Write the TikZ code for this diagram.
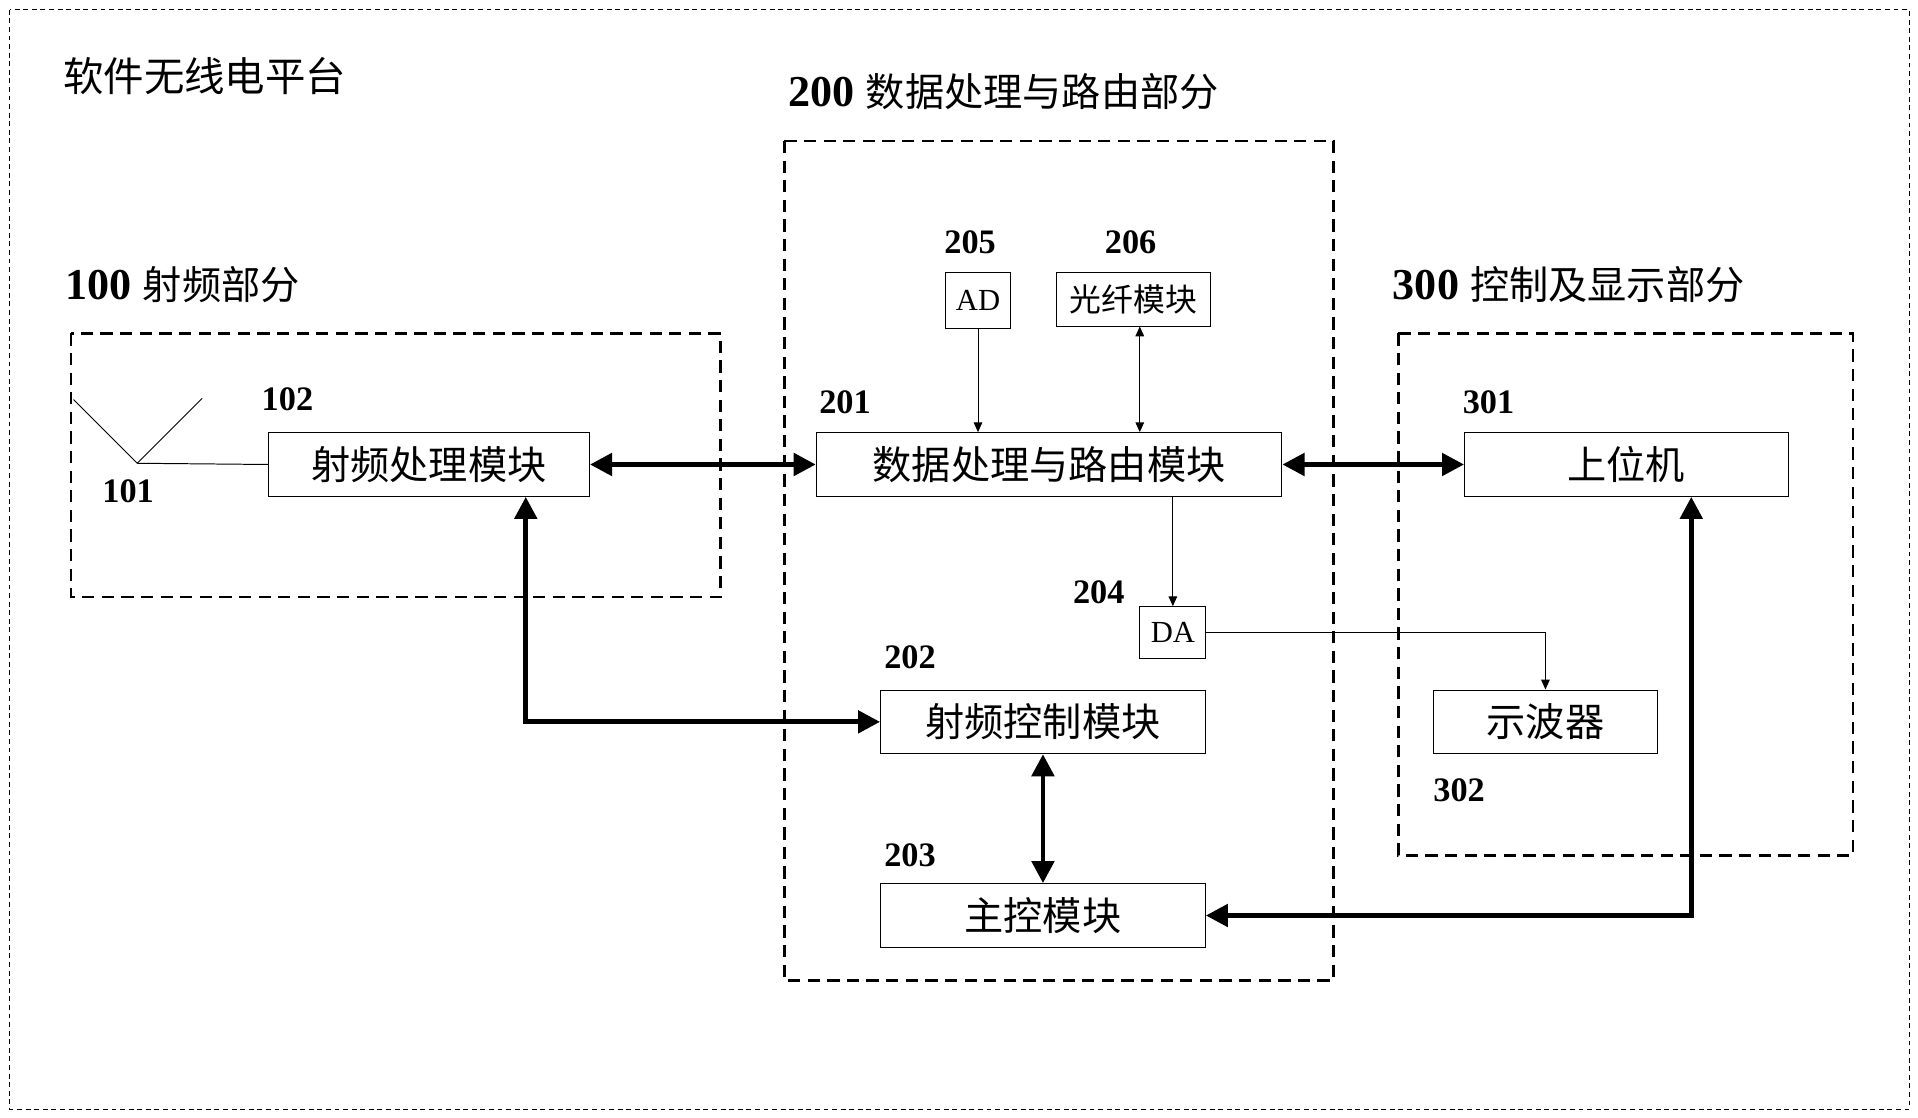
\documentclass[tikz,border=0pt]{standalone}
\usepackage{fontspec}
\setmainfont{Liberation Serif}
\newfontfamily\cjk{Noto Sans CJK SC}
\usetikzlibrary{arrows.meta}
\begin{document}
\begin{tikzpicture}[x=1pt,y=-1pt,
 box/.style={draw,line width=0.8pt,minimum height=52pt,font=\cjk\fontsize{32}{34}\selectfont,inner sep=0pt},
 sbox/.style={draw,line width=0.8pt,font=\fontsize{25}{27}\selectfont,inner sep=2pt},
 num/.style={font=\bfseries\fontsize{28}{30}\selectfont,anchor=west},
 head/.style={font=\fontsize{36}{38}\selectfont,anchor=west},
 grp/.style={draw,dashed,line width=2pt,dash pattern=on 10pt off 6pt},
 thin/.style={line width=0.8pt},
 big/.style={line width=4pt,{Triangle[length=18pt,width=18pt]}-{Triangle[length=18pt,width=18pt]}},
 sa/.style={thin,-{Triangle[length=8pt,width=7pt]}}]
\useasboundingbox (0,0) rectangle (1565,912);
\draw[thin,dash pattern=on 4pt off 3pt] (8,8) rectangle (1558,905);
\node[anchor=west,font=\cjk\fontsize{33}{35}\selectfont] (title) at (48,62) {软件无线电平台};
\node[head] (h200) at (640,75) {\textbf{200} {\cjk\fontsize{32}{34}\selectfont 数据处理与路由部分}};
\node[head] (h100) at (50,232) {\textbf{100} {\cjk\fontsize{32}{34}\selectfont 射频部分}};
\node[head] (h300) at (1133,232) {\textbf{300} {\cjk\fontsize{32}{34}\selectfont 控制及显示部分}};
\draw[grp] (640,115) rectangle (1088,800);
\draw[grp] (58,272) rectangle (588,487);
\draw[grp] (1141,272) rectangle (1512,698);
% antenna
\coordinate (ant) at (112,378);
\coordinate (antl) at (60,326);
\coordinate (antr) at (165,325);
\draw[thin] (antl) -- (ant) -- (antr);
\node[num] (n101) at (80,401) {101};
\node[box,minimum width=262pt] (b102) at (350,379) {射频处理模块};
\draw[thin] (ant) -- (b102.west);
\node[num] (n102) at (210,326) {102};
\node[box,minimum width=380pt] (b201) at (856,379) {数据处理与路由模块};
\node[num] (n201) at (665,328) {201};
\node[sbox,minimum width=53pt,minimum height=46pt] (b205) at (798,245) {AD};
\node[num] (n205) at (767,198) {205};
\node[sbox,minimum width=126pt,minimum height=44pt,font=\cjk\fontsize{26}{28}\selectfont] (b206) at (925,244) {光纤模块};
\node[num] (n206) at (898,198) {206};
\node[box,minimum width=264pt] (b301) at (1327,379) {上位机};
\node[num] (n301) at (1190,328) {301};
\node[sbox,minimum width=54pt,minimum height=42pt] (b204) at (957,516) {DA};
\node[num] (n204) at (872,483) {204};
\node[box,minimum width=183pt] (b302) at (1261,589) {示波器};
\node[num] (n302) at (1166,645) {302};
\node[box,minimum width=265pt] (b202) at (851,589) {射频控制模块};
\node[num] (n202) at (718,536) {202};
\node[box,minimum width=265pt] (b203) at (851,747) {主控模块};
\node[num] (n203) at (718,698) {203};
% connectors
\draw[big] (b102.east) -- (b201.west);
\draw[big] (b201.east) -- (b301.west);
\draw[sa] (b205.south) -- (b201.north -| b205.south);
\draw[thin,{Triangle[length=8pt,width=7pt]}-{Triangle[length=8pt,width=7pt]}] (b206.south -| 930,0) -- (b201.north -| 930,0);
\draw[sa] (b201.south -| b204.north) -- (b204.north);
\draw[sa] (b204.east) -| (b302.north);
\draw[big] (b102.south -| 429,0) |- (b202.west);
\draw[big] (b202.south) -- (b203.north);
\draw[big] (b301.south -| 1380,0) |- (b203.east);
\end{tikzpicture}
\end{document}
